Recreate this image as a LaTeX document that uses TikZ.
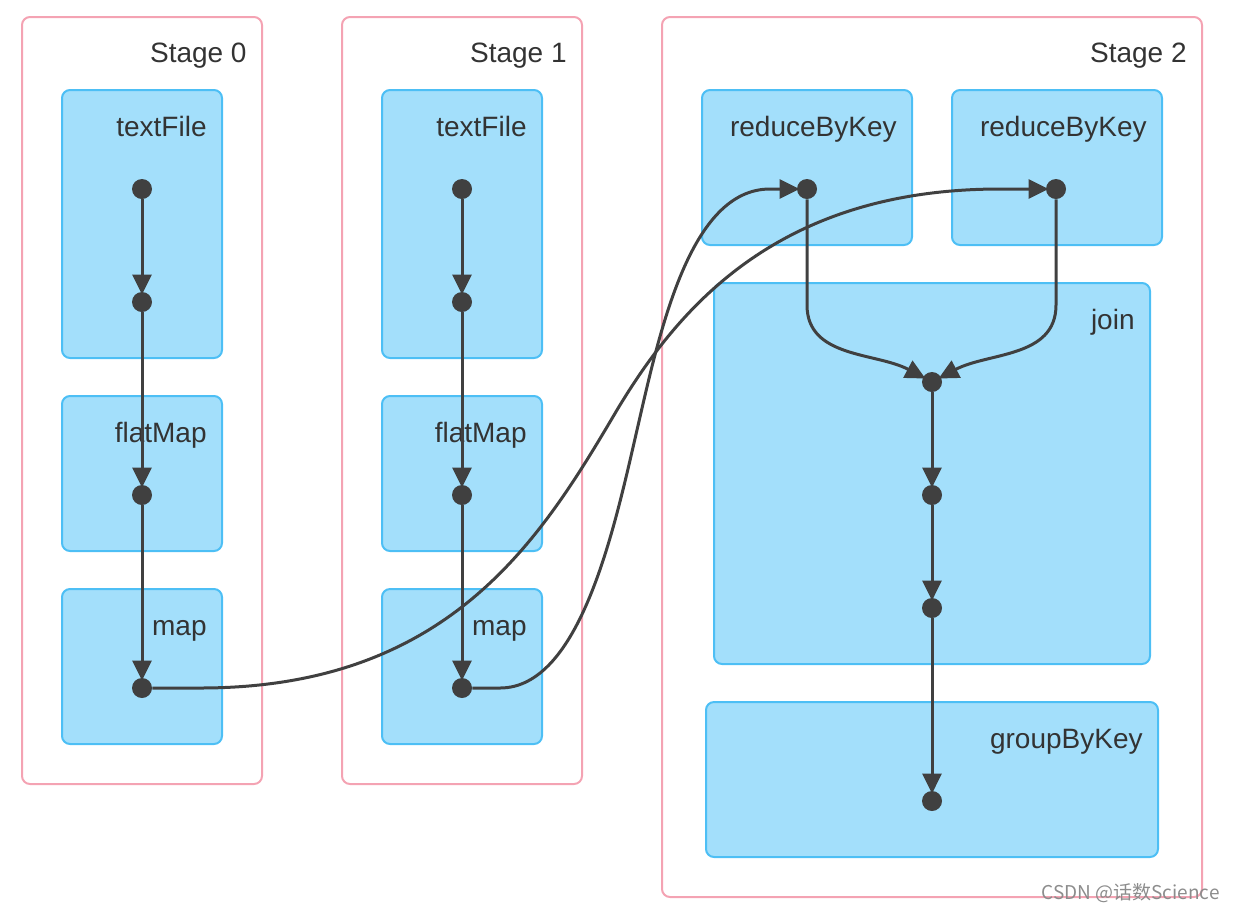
\documentclass[tikz,border=0pt]{standalone}
\usepackage{fontspec}
\setmainfont{Liberation Sans}
\newfontfamily\cjkfont{Noto Sans CJK SC}
\usetikzlibrary{arrows.meta}
\definecolor{rose}{HTML}{F4A3B3}
\definecolor{bleu}{HTML}{A3DFFB}
\definecolor{bleubord}{HTML}{4DBFF5}
\definecolor{trait}{HTML}{404040}
\definecolor{texte}{HTML}{333333}

\begin{document}
\begin{tikzpicture}[x=0.5pt, y=-0.5pt, dep/.style={<-, >={Triangle[length=10pt, width=9.5pt]}, line width=1.5pt, draw=trait, shorten <=-1.5pt}]
        \tikzset{etape/.style={draw=rose, line width=1pt, rounded corners=4pt},
            bloc/.style={draw=bleubord, fill=bleu, line width=1pt, rounded corners=4pt},
            titre/.style={anchor=base east, text=texte, font=\fontsize{14}{17}\selectfont, inner sep=0pt},
            noeud/.style={circle, fill=trait, inner sep=0pt, minimum size=10pt}};
        \useasboundingbox (0, 0) rectangle (1236, 912);

        \draw[etape] (22, 17) rectangle (262, 784);
        \draw[etape] (342, 17) rectangle (582, 784);
        \draw[etape] (662, 17) rectangle (1202, 897);

        \draw[bloc] (62, 90) rectangle (222, 358);
        \draw[bloc] (62, 396) rectangle (222, 551);
        \draw[bloc] (62, 589) rectangle (222, 744);
        \draw[bloc] (382, 90) rectangle (542, 358);
        \draw[bloc] (382, 396) rectangle (542, 551);
        \draw[bloc] (382, 589) rectangle (542, 744);
        \draw[bloc] (702, 90) rectangle (912, 245);
        \draw[bloc] (952, 90) rectangle (1162, 245);
        \draw[bloc] (714, 283) rectangle (1150, 664);
        \draw[bloc] (706, 702) rectangle (1158, 857);

        \node[titre] (e0) at (247, 62) {Stage 0};
        \node[titre] (e1) at (567, 62) {Stage 1};
        \node[titre] (e2) at (1187, 62) {Stage 2};
        \node[titre] (l0a) at (207, 136) {textFile};
        \node[titre] (l0b) at (207, 442) {flatMap};
        \node[titre] (l0c) at (207, 635) {map};
        \node[titre] (l1a) at (527, 136) {textFile};
        \node[titre] (l1b) at (527, 442) {flatMap};
        \node[titre] (l1c) at (527, 635) {map};
        \node[titre] (lr1) at (897, 136) {reduceByKey};
        \node[titre] (lr2) at (1147, 136) {reduceByKey};
        \node[titre] (lj) at (1135, 329) {join};
        \node[titre] (lg) at (1143, 748) {groupByKey};

        % stage 0
        \node[noeud] (t0) at (142, 189) {};
        \node[noeud] (u0) at (142, 302) {}
            edge[dep] (t0);
        \node[noeud] (f0) at (142, 495) {}
            edge[dep] (u0);
        \node[noeud] (m0) at (142, 688) {}
            edge[dep] (f0);

        % stage 1
        \node[noeud] (t1) at (462, 189) {};
        \node[noeud] (u1) at (462, 302) {}
            edge[dep] (t1);
        \node[noeud] (f1) at (462, 495) {}
            edge[dep] (u1);
        \node[noeud] (m1) at (462, 688) {}
            edge[dep] (f1);

        % stage 2
        \node[noeud] (r1) at (807, 189) {};
        \node[noeud] (r2) at (1056, 189) {};
        \node[noeud] (j1) at (932, 382) {};
        \node[noeud] (j2) at (932, 495) {}
            edge[dep] (j1);
        \node[noeud] (j3) at (932, 608) {}
            edge[dep] (j2);
        \node[noeud] (g) at (932, 801) {}
            edge[dep] (j3);

        \draw[dep] (j1) to[out=152, in=-90] (807, 305) -- (r1);
        \draw[dep] (j1) to[out=28, in=-90] (1056, 305) -- (r2);

        % shuffle
        \draw[dep] (r1) -- (770, 189) .. controls (690, 189) and (660, 330) .. (637, 430)
            .. controls (614, 530) and (580, 688) .. (500, 688) -- (m1);
        \draw[dep] (r2) -- (1000, 189) .. controls (780, 189) and (680, 305) .. (617, 410)
            .. controls (541, 539) and (450, 688) .. (200, 688) -- (m0);

        \node[anchor=base east, text=black!45, font=\cjkfont\fontsize{9.5}{11}\selectfont, inner sep=0pt] (marque) at (1220, 899) {CSDN @话数Science};
    \end{tikzpicture}
\end{document}
